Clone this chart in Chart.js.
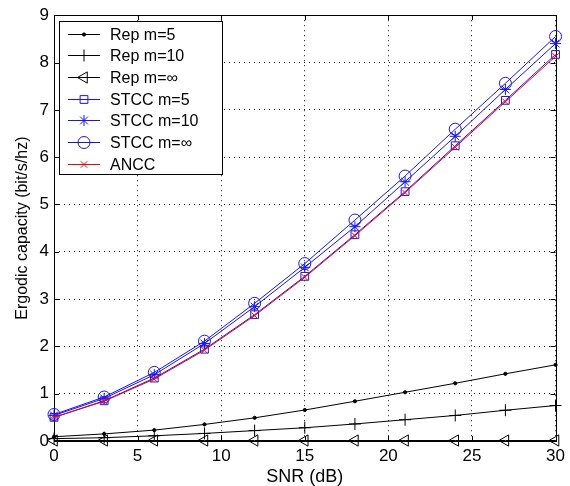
<!DOCTYPE html>
<html>
<head>
<meta charset="utf-8">
<script src="https://cdn.jsdelivr.net/npm/chart.js@4/dist/chart.umd.min.js"></script>
<style>
  html, body { margin: 0; padding: 0; background: #fff; }
  #wrap { width: 570px; height: 486px; }
</style>
</head>
<body>
<div id="wrap"><canvas id="chart" width="570" height="486"></canvas></div>
<script>
// ---------- data ----------
const snrDb = [0, 3, 6, 9, 12, 15, 18, 21, 24, 27, 30];
const xTicks = [0, 5, 10, 15, 20, 25, 30];
const yTicks = [0, 1, 2, 3, 4, 5, 6, 7, 8, 9];

const repM5 = [0.09, 0.15, 0.23, 0.35, 0.49, 0.655, 0.84, 1.03, 1.22, 1.42, 1.61];
const repM10 = [0.05, 0.07, 0.11, 0.16, 0.22, 0.28, 0.36, 0.45, 0.54, 0.65, 0.75];
const repMInf = [0.01, 0.01, 0.01, 0.01, 0.01, 0.01, 0.01, 0.01, 0.01, 0.01, 0.01];
const stccM5 = [0.50, 0.85, 1.33, 1.94, 2.67, 3.48, 4.36, 5.27, 6.24, 7.20, 8.17];
const stccM10 = [0.54, 0.90, 1.40, 2.06, 2.84, 3.67, 4.53, 5.48, 6.44, 7.43, 8.40];
const stccMInf = [0.56, 0.93, 1.45, 2.11, 2.91, 3.75, 4.67, 5.60, 6.59, 7.56, 8.55];
const ancc = [0.50, 0.84, 1.31, 1.92, 2.65, 3.46, 4.34, 5.25, 6.21, 7.17, 8.13];

const FONT = "'Liberation Sans', Arial, Helvetica, sans-serif";
const BLUE = "rgb(20,20,255)";

function pts(values) {
  return values.map((v, i) => ({ x: snrDb[i], y: v }));
}

function series(label, values, color, style, radius, extra) {
  return Object.assign({
    label: label,
    data: pts(values),
    borderColor: color,
    backgroundColor: "rgba(0,0,0,0)",
    borderWidth: 1,
    pointStyle: style,
    pointRadius: radius,
    pointBorderColor: color,
    pointBackgroundColor: "rgba(0,0,0,0)",
    pointBorderWidth: 1,
    tension: 0,
    clip: false,
  }, extra || {});
}

const datasets = [
  series("Rep m=5", repM5, "#000", "circle", 1.6, { pointBackgroundColor: "#000" }),
  series("Rep m=10", repM10, "#000", "cross", 6),
  series("Rep m=\u221e", repMInf, "#000", "triangle", 6.5, { pointRotation: -90 }),
  series("STCC m=5", stccM5, BLUE, "rect", 5.5),
  series("STCC m=10", stccM10, BLUE, "star", 5.5),
  series("STCC m=\u221e", stccMInf, BLUE, "circle", 6),
  series("ANCC", ancc, "rgb(255,0,0)", "crossRot", 4.5, { order: -1 }),
];

// box, inward ticks and the legend drawn inside the plot (matlab look)
const matlabFrame = {
  id: "matlabFrame",
  beforeDatasetsDraw(chart) {
    const { ctx, chartArea: a, scales } = chart;
    ctx.save();
    ctx.strokeStyle = "#000";
    ctx.lineWidth = 1;
    ctx.strokeRect(Math.round(a.left) + 0.5, Math.round(a.top) + 0.5,
      Math.round(a.right - a.left), Math.round(a.bottom - a.top));

    const tl = 5;
    ctx.beginPath();
    xTicks.forEach((t) => {
      const px = Math.round(scales.x.getPixelForValue(t)) + 0.5;
      ctx.moveTo(px, a.bottom); ctx.lineTo(px, a.bottom - tl);
      ctx.moveTo(px, a.top); ctx.lineTo(px, a.top + tl);
    });
    yTicks.forEach((t) => {
      const py = Math.round(scales.y.getPixelForValue(t)) + 0.5;
      ctx.moveTo(a.left, py); ctx.lineTo(a.left + tl, py);
      ctx.moveTo(a.right, py); ctx.lineTo(a.right - tl, py);
    });
    ctx.stroke();
    ctx.restore();
  },
  afterDatasetsDraw(chart) {
    const { ctx } = chart;
    ctx.save();
    const bx = 59.5, by = 21.5, bw = 163, bh = 153;
    ctx.fillStyle = "#fff";
    ctx.strokeStyle = "#000";
    ctx.lineWidth = 1;
    ctx.fillRect(bx, by, bw, bh);
    ctx.strokeRect(bx, by, bw, bh);
    ctx.font = "16px " + FONT;
    ctx.textBaseline = "middle";
    chart.data.datasets.forEach((ds, i) => {
      const y = Math.round(33.5 + i * 21.67) + 0.5;
      ctx.strokeStyle = ds.borderColor;
      ctx.lineWidth = 1;
      ctx.beginPath();
      ctx.moveTo(68, y); ctx.lineTo(100, y);
      ctx.stroke();
      ctx.fillStyle = ds.pointBackgroundColor;
      Chart.helpers.drawPoint(ctx, {
        pointStyle: ds.pointStyle,
        rotation: ds.pointRotation || 0,
        radius: ds.pointRadius,
        borderWidth: 1,
      }, 84, y);
      ctx.fillStyle = "#000";
      ctx.fillText(ds.label, 110, y + 1);
    });
    ctx.restore();
  },
};

new Chart(document.getElementById("chart"), {
  type: "line",
  data: { datasets: datasets },
  options: {
    responsive: false,
    animation: false,
    events: [],
    layout: { padding: { top: 15, right: 11, left: 0, bottom: 0 } },
    plugins: { legend: { display: false }, tooltip: { enabled: false } },
    scales: {
      x: {
        type: "linear",
        min: 0,
        max: 30,
        afterBuildTicks: (s) => { s.ticks = xTicks.map((v) => ({ value: v })); },
        afterFit: (s) => { s.height = 45; },
        ticks: { color: "#000", padding: 5, font: { family: FONT, size: 17 } },
        grid: { color: "rgba(0,0,0,0.9)", drawTicks: false },
        border: { display: false, dash: [1, 4] },
        title: {
          display: true, text: "SNR (dB)", color: "#000",
          font: { family: FONT, size: 18, lineHeight: 1 }, padding: { top: 0, bottom: 0 },
        },
      },
      y: {
        type: "linear",
        min: 0,
        max: 9,
        afterBuildTicks: (s) => { s.ticks = yTicks.map((v) => ({ value: v })); },
        afterFit: (s) => { s.width = 54; },
        ticks: { color: "#000", padding: 5, font: { family: FONT, size: 17 } },
        grid: { color: "rgba(0,0,0,0.9)", drawTicks: false },
        border: { display: false, dash: [1, 4] },
        title: {
          display: true, text: "Ergodic capacity (bit/s/hz)", color: "#000",
          font: { family: FONT, size: 16, lineHeight: 1 }, padding: { top: 15, bottom: 0 },
        },
      },
    },
  },
  plugins: [matlabFrame],
});
</script>
</body>
</html>
